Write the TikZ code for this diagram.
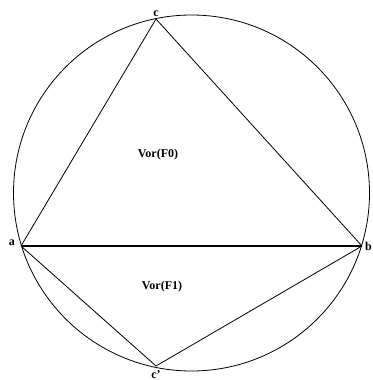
\documentclass[tikz,border=0pt]{standalone}
\usepackage{fontspec}
\setmainfont{Liberation Serif}
\usetikzlibrary{positioning, calc}

\begin{document}
\begin{tikzpicture}[
        x=1pt, y=-1pt,
        edge/.style={draw=black, line width=0.8pt},
        base/.style={draw=black, line width=1.6pt},
        lbl/.style={font=\fontsize{12}{14}\selectfont\bfseries, inner sep=1pt},
        region/.style={font=\fontsize{12}{14}\selectfont\bfseries, inner sep=0pt}
    ]
    \useasboundingbox (0,0) rectangle (372,380);

    % vertices of the two triangles
    \coordinate (ctr) at (191.5,193);
    \coordinate (a) at (21,246);
    \coordinate (b) at (362,246);
    \coordinate (c) at (156,19);
    \coordinate (cc) at (156,366);

    \draw [edge] (ctr) circle (178);

    \draw [edge] (a) -- (c) -- (b);
    \draw [edge] (a) -- (cc) -- (b);
    \draw [base] (a) -- (b);

    \node (la) [lbl, left=5pt of a, yshift=3pt] {a};
    \node (lb) [lbl, right=2pt of b, yshift=0pt] {b};
    \node (lc) [lbl, above=1pt of c] {c};
    \node (lcc) [lbl, below=3pt of cc] {c’};

    \node (f0) [region] at (158,155) {Vor(F0)};
    \node (f1) [region] at (162,287) {Vor(F1)};

\end{tikzpicture}
\end{document}
